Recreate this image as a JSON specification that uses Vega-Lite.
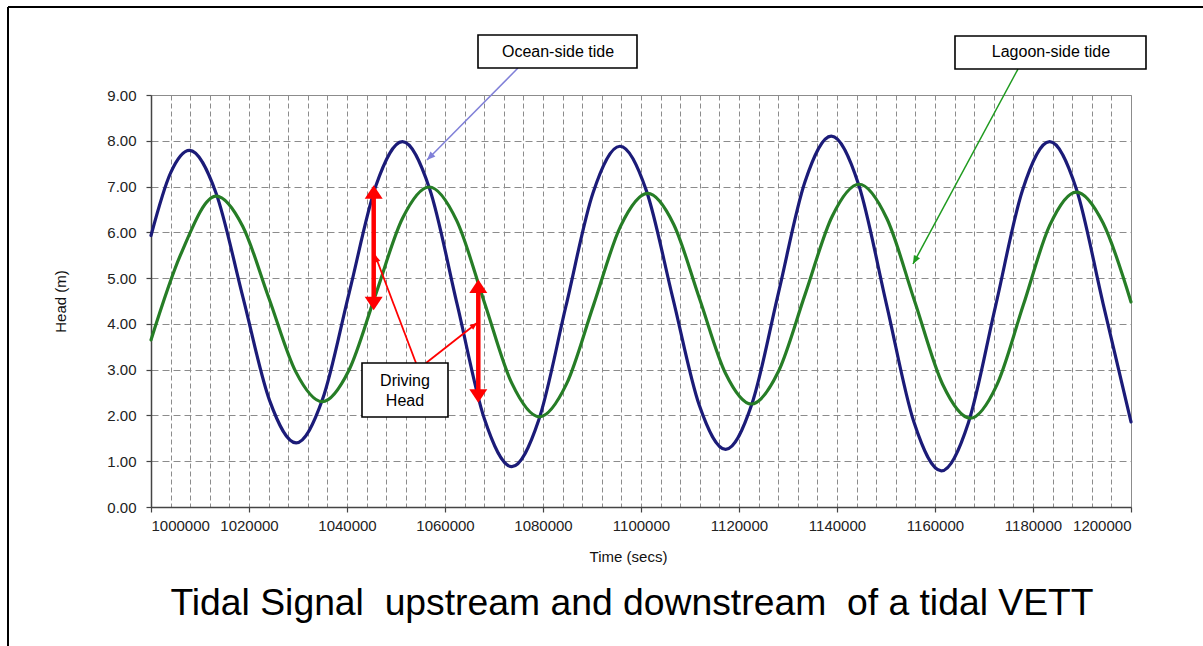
{
  "$schema": "https://vega.github.io/schema/vega-lite/v6.json",
  "width": 980,
  "height": 412,
  "autosize": {"type": "none"},
  "padding": {"left": 151, "top": 95, "right": 72, "bottom": 139},
  "background": "white",
  "config": {
    "view": {"stroke": "#8c8c8c", "strokeWidth": 1},
    "font": "Liberation Sans",
    "axis": {
      "labelFont": "Liberation Sans", "titleFont": "Liberation Sans",
      "labelColor": "#222222", "titleColor": "#111111",
      "labelFontSize": 15, "titleFontSize": 15, "titleFontWeight": "normal",
      "domainColor": "#444444", "tickColor": "#444444", "domainWidth": 1.5, "tickSize": 5, "tickWidth": 1.2
    }
  },
  "title": {
    "text": "Tidal Signal \u00a0upstream and downstream \u00a0of a tidal VETT",
    "orient": "bottom", "anchor": "middle", "fontSize": 37.3, "fontWeight": "normal",
    "font": "Liberation Sans", "color": "#000000", "offset": -65, "dx": -9
  },
  "resolve": {"axis": {"x": "independent"}},
  "layer": [
    {
      "data": {"values": [
        {"time": 1000000, "head": 5.93}, {"time": 1004000, "head": 7.30}, {"time": 1007840, "head": 7.79},
        {"time": 1013285, "head": 6.855}, {"time": 1018730, "head": 4.595}, {"time": 1024175, "head": 2.335},
        {"time": 1029620, "head": 1.40}, {"time": 1035040, "head": 2.363}, {"time": 1040465, "head": 4.69},
        {"time": 1045890, "head": 7.017}, {"time": 1051310, "head": 7.98}, {"time": 1056890, "head": 6.941},
        {"time": 1062470, "head": 4.43}, {"time": 1068050, "head": 1.92}, {"time": 1073630, "head": 0.88},
        {"time": 1079148, "head": 1.905}, {"time": 1084665, "head": 4.38}, {"time": 1090183, "head": 6.855},
        {"time": 1095700, "head": 7.88}, {"time": 1101093, "head": 6.911}, {"time": 1106485, "head": 4.57},
        {"time": 1111878, "head": 2.229}, {"time": 1117270, "head": 1.26}, {"time": 1122663, "head": 2.261},
        {"time": 1128055, "head": 4.68}, {"time": 1133448, "head": 7.099}, {"time": 1138840, "head": 8.10},
        {"time": 1144453, "head": 7.03}, {"time": 1150065, "head": 4.445}, {"time": 1155678, "head": 1.86},
        {"time": 1161290, "head": 0.79}, {"time": 1166818, "head": 1.843}, {"time": 1172345, "head": 4.385},
        {"time": 1177873, "head": 6.927}, {"time": 1183400, "head": 7.98}, {"time": 1188850, "head": 6.945},
        {"time": 1194300, "head": 4.445}, {"time": 1200000, "head": 1.86}
      ]},
      "mark": {"type": "line", "color": "#1b1b78", "strokeWidth": 3.2, "interpolate": "monotone", "strokeCap": "round", "strokeJoin": "round"},
      "encoding": {
        "x": {"field": "time", "type": "quantitative",
              "scale": {"domain": [1000000, 1200000], "nice": false, "zero": false},
              "axis": {"orient": "bottom", "grid": true, "gridDash": [5, 3], "gridColor": "#8c8c8c", "gridWidth": 1,
                       "labels": false, "ticks": false, "domain": false, "title": null,
                       "values": [1004000,1008000,1012000,1016000,1020000,1024000,1028000,1032000,1036000,1040000,1044000,1048000,1052000,1056000,1060000,1064000,1068000,1072000,1076000,1080000,1084000,1088000,1092000,1096000,1100000,1104000,1108000,1112000,1116000,1120000,1124000,1128000,1132000,1136000,1140000,1144000,1148000,1152000,1156000,1160000,1164000,1168000,1172000,1176000,1180000,1184000,1188000,1192000,1196000]}},
        "y": {"field": "head", "type": "quantitative",
              "scale": {"domain": [0, 9], "nice": false},
              "axis": {"values": [0,1,2,3,4,5,6,7,8,9], "format": ".2f", "grid": true, "gridDash": [7, 4], "gridColor": "#8c8c8c", "gridWidth": 1,
                       "labelPadding": 10, "title": "Head (m)", "titleX": -91, "titleY": 206, "titleAlign": "center", "titleBaseline": "middle"}}
      }
    },
    {
      "data": {"values": [
        {"time": 1000000, "head": 3.65}, {"time": 1006000, "head": 5.50}, {"time": 1013300, "head": 6.79},
        {"time": 1018710, "head": 6.133}, {"time": 1024120, "head": 4.545}, {"time": 1029530, "head": 2.957},
        {"time": 1034940, "head": 2.30}, {"time": 1040398, "head": 2.987}, {"time": 1045855, "head": 4.645},
        {"time": 1051313, "head": 6.303}, {"time": 1056770, "head": 6.99}, {"time": 1062390, "head": 6.255},
        {"time": 1068010, "head": 4.48}, {"time": 1073630, "head": 2.705}, {"time": 1079250, "head": 1.97},
        {"time": 1084780, "head": 2.684}, {"time": 1090310, "head": 4.41}, {"time": 1095840, "head": 6.136},
        {"time": 1101370, "head": 6.85}, {"time": 1106659, "head": 6.177}, {"time": 1111948, "head": 4.55},
        {"time": 1117236, "head": 2.923}, {"time": 1122525, "head": 2.25}, {"time": 1128016, "head": 2.953},
        {"time": 1133508, "head": 4.65}, {"time": 1138999, "head": 6.347}, {"time": 1144490, "head": 7.05},
        {"time": 1150168, "head": 6.302}, {"time": 1155845, "head": 4.495}, {"time": 1161523, "head": 2.688},
        {"time": 1167200, "head": 1.94}, {"time": 1172610, "head": 2.663}, {"time": 1178020, "head": 4.41},
        {"time": 1183430, "head": 6.157}, {"time": 1188840, "head": 6.88}, {"time": 1194300, "head": 6.204},
        {"time": 1200000, "head": 4.48}
      ]},
      "mark": {"type": "line", "color": "#267d26", "strokeWidth": 3.2, "interpolate": "monotone", "strokeCap": "round", "strokeJoin": "round"},
      "encoding": {
        "x": {"field": "time", "type": "quantitative",
              "axis": {"orient": "bottom", "values": [1000000,1020000,1040000,1060000,1080000,1100000,1120000,1140000,1160000,1180000,1200000],
                       "format": "d", "grid": false, "labelPadding": 6, "title": "Time (secs)", "titleX": 477, "titleY": 49,
                       "titleAlign": "center", "titleBaseline": "middle"}},
        "y": {"field": "head", "type": "quantitative"}
      }
    },
    {
      "data": {"values": [
        {"t1": 1074897, "v1": 9.589, "t2": 1056326, "v2": 7.58}
      ]},
      "mark": {"type": "rule", "color": "#8080d8", "strokeWidth": 1.5},
      "encoding": {
        "x": {"field": "t1", "type": "quantitative", "axis": null}, "x2": {"field": "t2"},
        "y": {"field": "v1", "type": "quantitative"}, "y2": {"field": "v2"}
      }
    },
    {
      "data": {"values": [{"t": 1056326, "v": 7.58}]},
      "mark": {"type": "point", "shape": "M0,0L-1,-2.4L1,-2.4Z", "size": 49, "filled": true, "opacity": 1, "color": "#8080d8", "angle": 45, "strokeWidth": 0},
      "encoding": {"x": {"field": "t", "type": "quantitative", "axis": null}, "y": {"field": "v", "type": "quantitative"}}
    },
    {
      "data": {"values": [
        {"t1": 1176937, "v1": 9.567, "t2": 1155509, "v2": 5.308}
      ]},
      "mark": {"type": "rule", "color": "#1e9a1e", "strokeWidth": 1.5},
      "encoding": {
        "x": {"field": "t1", "type": "quantitative", "axis": null}, "x2": {"field": "t2"},
        "y": {"field": "v1", "type": "quantitative"}, "y2": {"field": "v2"}
      }
    },
    {
      "data": {"values": [{"t": 1155509, "v": 5.308}]},
      "mark": {"type": "point", "shape": "M0,0L-1,-2.4L1,-2.4Z", "size": 49, "filled": true, "opacity": 1, "color": "#1e9a1e", "angle": 28.3, "strokeWidth": 0},
      "encoding": {"x": {"field": "t", "type": "quantitative", "axis": null}, "y": {"field": "v", "type": "quantitative"}}
    },
    {
      "data": {"values": [
        {"t1": 1045448, "v1": 6.9, "t2": 1045448, "v2": 4.43},
        {"t1": 1066795, "v1": 4.84, "t2": 1066795, "v2": 2.41}
      ]},
      "mark": {"type": "rule", "color": "#ff0000", "strokeWidth": 4.5},
      "encoding": {
        "x": {"field": "t1", "type": "quantitative", "axis": null}, "x2": {"field": "t2"},
        "y": {"field": "v1", "type": "quantitative"}, "y2": {"field": "v2"}
      }
    },
    {
      "data": {"values": [{"t": 1045448, "v": 7.03}, {"t": 1066795, "v": 4.97}]},
      "mark": {"type": "point", "shape": "M0,0L-1,1.5L1,1.5Z", "size": 324, "filled": true, "opacity": 1, "color": "#ff0000", "strokeWidth": 0},
      "encoding": {"x": {"field": "t", "type": "quantitative", "axis": null}, "y": {"field": "v", "type": "quantitative"}}
    },
    {
      "data": {"values": [{"t": 1045448, "v": 4.30}, {"t": 1066795, "v": 2.28}]},
      "mark": {"type": "point", "shape": "M0,0L-1,-1.5L1,-1.5Z", "size": 324, "filled": true, "opacity": 1, "color": "#ff0000", "strokeWidth": 0},
      "encoding": {"x": {"field": "t", "type": "quantitative", "axis": null}, "y": {"field": "v", "type": "quantitative"}}
    },
    {
      "data": {"values": [
        {"t1": 1054081, "v1": 3.145, "t2": 1045714, "v2": 5.504},
        {"t1": 1056122, "v1": 3.145, "t2": 1066530, "v2": 4.019}
      ]},
      "mark": {"type": "rule", "color": "#ff0000", "strokeWidth": 1.8},
      "encoding": {
        "x": {"field": "t1", "type": "quantitative", "axis": null}, "x2": {"field": "t2"},
        "y": {"field": "v1", "type": "quantitative"}, "y2": {"field": "v2"}
      }
    },
    {
      "data": {"values": [{"t": 1045714, "v": 5.504}]},
      "mark": {"type": "point", "shape": "M0,0L-1,-2.4L1,-2.4Z", "size": 36, "filled": true, "opacity": 1, "color": "#ff0000", "angle": 159.2, "strokeWidth": 0},
      "encoding": {"x": {"field": "t", "type": "quantitative", "axis": null}, "y": {"field": "v", "type": "quantitative"}}
    },
    {
      "data": {"values": [{"t": 1066530, "v": 4.019}]},
      "mark": {"type": "point", "shape": "M0,0L-1,-2.4L1,-2.4Z", "size": 36, "filled": true, "opacity": 1, "color": "#ff0000", "angle": 231.9, "strokeWidth": 0},
      "encoding": {"x": {"field": "t", "type": "quantitative", "axis": null}, "y": {"field": "v", "type": "quantitative"}}
    },
    {
      "data": {"values": [
        {"t1": 1066734, "t2": 1099183, "v1": 9.589, "v2": 10.31},
        {"t1": 1164080, "t2": 1203060, "v1": 9.567, "v2": 10.288},
        {"t1": 1043061, "t2": 1060612, "v1": 1.966, "v2": 3.145}
      ]},
      "mark": {"type": "rect", "fill": "#ffffff", "stroke": "#000000", "strokeWidth": 1.6},
      "encoding": {
        "x": {"field": "t1", "type": "quantitative", "axis": null}, "x2": {"field": "t2"},
        "y": {"field": "v1", "type": "quantitative"}, "y2": {"field": "v2"}
      }
    },
    {
      "data": {"values": [
        {"t": 1083060, "v": 9.939, "label": "Ocean-side tide"},
        {"t": 1183670, "v": 9.939, "label": "Lagoon-side tide"},
        {"t": 1051836, "v": 2.752, "label": "Driving"},
        {"t": 1051836, "v": 2.315, "label": "Head"}
      ]},
      "mark": {"type": "text", "font": "Liberation Sans", "fontSize": 16, "color": "#000000", "align": "center", "baseline": "middle"},
      "encoding": {
        "x": {"field": "t", "type": "quantitative", "axis": null},
        "y": {"field": "v", "type": "quantitative"},
        "text": {"field": "label"}
      }
    },
    {
      "data": {"values": [
        {"t1": 970817, "t2": 1260000, "v1": 10.922, "v2": 10.922},
        {"t1": 970817, "t2": 970817, "v1": 10.922, "v2": -3.124}
      ]},
      "mark": {"type": "rule", "color": "#000000", "strokeWidth": 2},
      "encoding": {
        "x": {"field": "t1", "type": "quantitative", "axis": null}, "x2": {"field": "t2"},
        "y": {"field": "v1", "type": "quantitative"}, "y2": {"field": "v2"}
      }
    }
  ]
}
